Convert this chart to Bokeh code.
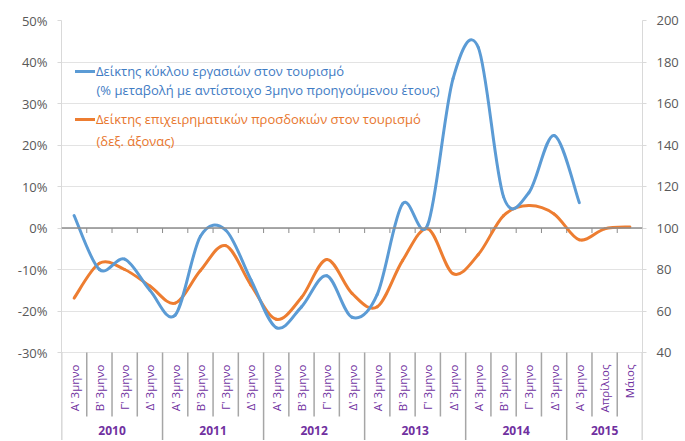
import math
from bokeh.plotting import figure
from bokeh.models import (Range1d, LinearAxis, FixedTicker, Span, ColumnDataSource,
                          Legend, LegendItem, Label, PrintfTickFormatter, Grid)
from bokeh.embed import file_html
from bokeh.resources import INLINE
from bokeh.core.properties import value

# ---------------- data ----------------
years = ["2010", "2011", "2012", "2013", "2014", "2015"]
year_sizes = [4, 4, 4, 4, 4, 3]
periods = ["Α' 3μηνο", "Β' 3μηνο", "Γ' 3μηνο", "Δ' 3μηνο"] * 5 + ["Α' 3μηνο", "Απρίλιος", "Μάιος"]

# Turnover index in tourism (% change y/y), left axis
turnover = [3.0, -10.0, -7.5, -15.0, -21.0, -2.0, -0.5, -12.5, -24.0, -19.0, -11.5,
            -21.5, -16.0, 5.8, 0.8, 36.0, 43.5, 7.5, 8.5, 22.3, 6.1, None, None]
# Business expectations index in tourism, right axis
expectations = [66.2, 83.0, 80.0, 72.0, 63.8, 79.5, 91.5, 72.5, 56.0, 66.5, 84.8,
                68.5, 62.0, 84.3, 99.6, 78.0, 87.2, 106.0, 110.8, 106.8, 94.3, 99.6, 100.5]

left_ticks = [-30, -20, -10, 0, 10, 20, 30, 40, 50]
right_ticks = [40, 60, 80, 100, 120, 140, 160, 180, 200]

label_blue_1 = "Δείκτης κύκλου εργασιών στον τουρισμό"
label_blue_2 = "(% μεταβολή με αντίστοιχο 3μηνο προηγούμενου έτους)"
label_orange_1 = "Δείκτης επιχειρηματικών προσδοκιών στον τουρισμό"
label_orange_2 = "(δεξ. άξονας)"

# ---------------- styling / layout ----------------
BLUE = "#5B9BD5"
ORANGE = "#ED7D31"
BLUE_TXT = "#3F7CC4"
ORANGE_TXT = "#E8762D"
PURPLE = "#7030A0"
AX_TXT = "#595959"
FONT = "Open Sans"

W, H = 684, 440
B_LEFT, B_RIGHT, B_TOP = 61, 42, 20
frame_h = H - B_TOP
plot_h = 332  # pixels between top (50%) and -30%
px_left = plot_h / (left_ticks[-1] - left_ticks[0])
px_right = plot_h / (right_ticks[-1] - right_ticks[0])
left_start = left_ticks[-1] - frame_h / px_left
right_start = right_ticks[-1] - frame_h / px_right

n = len(periods)
centers = [i + 0.5 for i in range(n)]

p = figure(width=W, height=H, output_backend="svg", toolbar_location=None,
           x_range=Range1d(0, n), y_range=Range1d(left_start, left_ticks[-1]),
           x_axis_location=None, y_axis_location=None,
           min_border_left=B_LEFT, min_border_right=B_RIGHT,
           min_border_top=B_TOP, min_border_bottom=0)
p.extra_y_ranges = {"right": Range1d(right_start, right_ticks[-1])}
p.outline_line_color = None
p.grid.visible = False
p.background_fill_color = "white"
p.border_fill_color = "white"

p.add_layout(Grid(dimension=1, ticker=FixedTicker(ticks=left_ticks),
                  grid_line_color="#E3E3E3", grid_line_width=1))

def style_axis(ax):
    ax.axis_line_color = "#D9D9D9"
    ax.major_tick_line_color = "#D9D9D9"
    ax.major_tick_out = 4
    ax.major_tick_in = 0
    ax.minor_tick_line_color = None
    ax.major_label_text_font = FONT
    ax.major_label_text_font_size = "13px"
    ax.major_label_text_color = AX_TXT

yl = LinearAxis(ticker=FixedTicker(ticks=left_ticks), formatter=PrintfTickFormatter(format="%d%%"))
style_axis(yl)
yl.major_label_standoff = 10
p.add_layout(yl, "left")

yr = LinearAxis(y_range_name="right", ticker=FixedTicker(ticks=right_ticks))
style_axis(yr)
yr.major_label_standoff = 10
p.add_layout(yr, "right")

# zero line with category tick marks
p.add_layout(Span(location=0, dimension="width", line_color="#8C8C8C", line_width=1.3))
bounds = list(range(n + 1))
p.segment(x0=bounds, y0=[0] * len(bounds), x1=bounds, y1=[-5 / px_left] * len(bounds),
          line_color="#8C8C8C", line_width=1)

# category separators in the label band
group_bounds = [0]
for s in year_sizes:
    group_bounds.append(group_bounds[-1] + s)
short_b = [b for b in bounds if b not in group_bounds]
y_axis_bottom = left_ticks[0]
p.segment(x0=short_b, y0=[y_axis_bottom] * len(short_b), x1=short_b,
          y1=[y_axis_bottom - 64 / px_left] * len(short_b), line_color="#A6A6A6", line_width=1.5)
p.segment(x0=group_bounds, y0=[y_axis_bottom] * len(group_bounds), x1=group_bounds,
          y1=[left_start] * len(group_bounds), line_color="#A6A6A6", line_width=1.5)

# category labels
p.text(x=centers, y=[y_axis_bottom - 12 / px_left] * n, text=periods, angle=math.pi / 2,
       text_align="right", text_baseline="middle", text_font=value(FONT),
       text_font_size="11.5px", text_color=PURPLE)
group_centers = [(group_bounds[i] + group_bounds[i + 1]) / 2 for i in range(len(years))]
p.text(x=group_centers, y=[y_axis_bottom - 73 / px_left] * len(years), text=years,
       text_align="center", text_baseline="top", text_font=value(FONT),
       text_font_size="12px", text_font_style="bold", text_color=PURPLE)

# smoothed lines (Excel-like Catmull-Rom -> Bezier)
def bezier_data(xs, ys):
    pts = [(x, y) for x, y in zip(xs, ys) if y is not None]
    m = len(pts)
    d = dict(x0=[], y0=[], x1=[], y1=[], cx0=[], cy0=[], cx1=[], cy1=[])
    for i in range(m - 1):
        pa = pts[i - 1] if i > 0 else pts[i]
        pb, pc = pts[i], pts[i + 1]
        pd = pts[i + 2] if i + 2 < m else pts[i + 1]
        d["x0"].append(pb[0]); d["y0"].append(pb[1])
        d["x1"].append(pc[0]); d["y1"].append(pc[1])
        d["cx0"].append(pb[0] + (pc[0] - pa[0]) / 6); d["cy0"].append(pb[1] + (pc[1] - pa[1]) / 6)
        d["cx1"].append(pc[0] - (pd[0] - pb[0]) / 6); d["cy1"].append(pc[1] - (pd[1] - pb[1]) / 6)
    return ColumnDataSource(d)

r_orange = p.bezier(x0="x0", y0="y0", x1="x1", y1="y1", cx0="cx0", cy0="cy0", cx1="cx1", cy1="cy1",
                    source=bezier_data(centers, expectations), y_range_name="right",
                    line_color=ORANGE, line_width=3, line_cap="round")
r_blue = p.bezier(x0="x0", y0="y0", x1="x1", y1="y1", cx0="cx0", cy0="cy0", cx1="cx1", cy1="cy1",
                  source=bezier_data(centers, turnover),
                  line_color=BLUE, line_width=3, line_cap="round")

# legends
def make_legend(label, renderer, color, loc):
    lg = Legend(items=[LegendItem(label=label, renderers=[renderer])], location=loc,
                border_line_color=None, background_fill_alpha=0, padding=0, margin=0,
                spacing=0, glyph_width=20, glyph_height=16, label_height=16,
                label_standoff=1, label_text_font=FONT, label_text_font_size="13px",
                label_text_color=color)
    p.add_layout(lg)

make_legend(label_blue_1, r_blue, BLUE_TXT, (14, 360))
make_legend(label_orange_1, r_orange, ORANGE_TXT, (14, 312))
p.add_layout(Label(x=35, y=351, x_units="screen", y_units="screen", text=label_blue_2,
                   text_font=FONT, text_font_size="13px", text_color=BLUE_TXT,
                   text_baseline="middle"))
p.add_layout(Label(x=35, y=300, x_units="screen", y_units="screen", text=label_orange_2,
                   text_font=FONT, text_font_size="13px", text_color=ORANGE_TXT,
                   text_baseline="middle"))

open("out.html", "w").write(file_html(p, INLINE))
